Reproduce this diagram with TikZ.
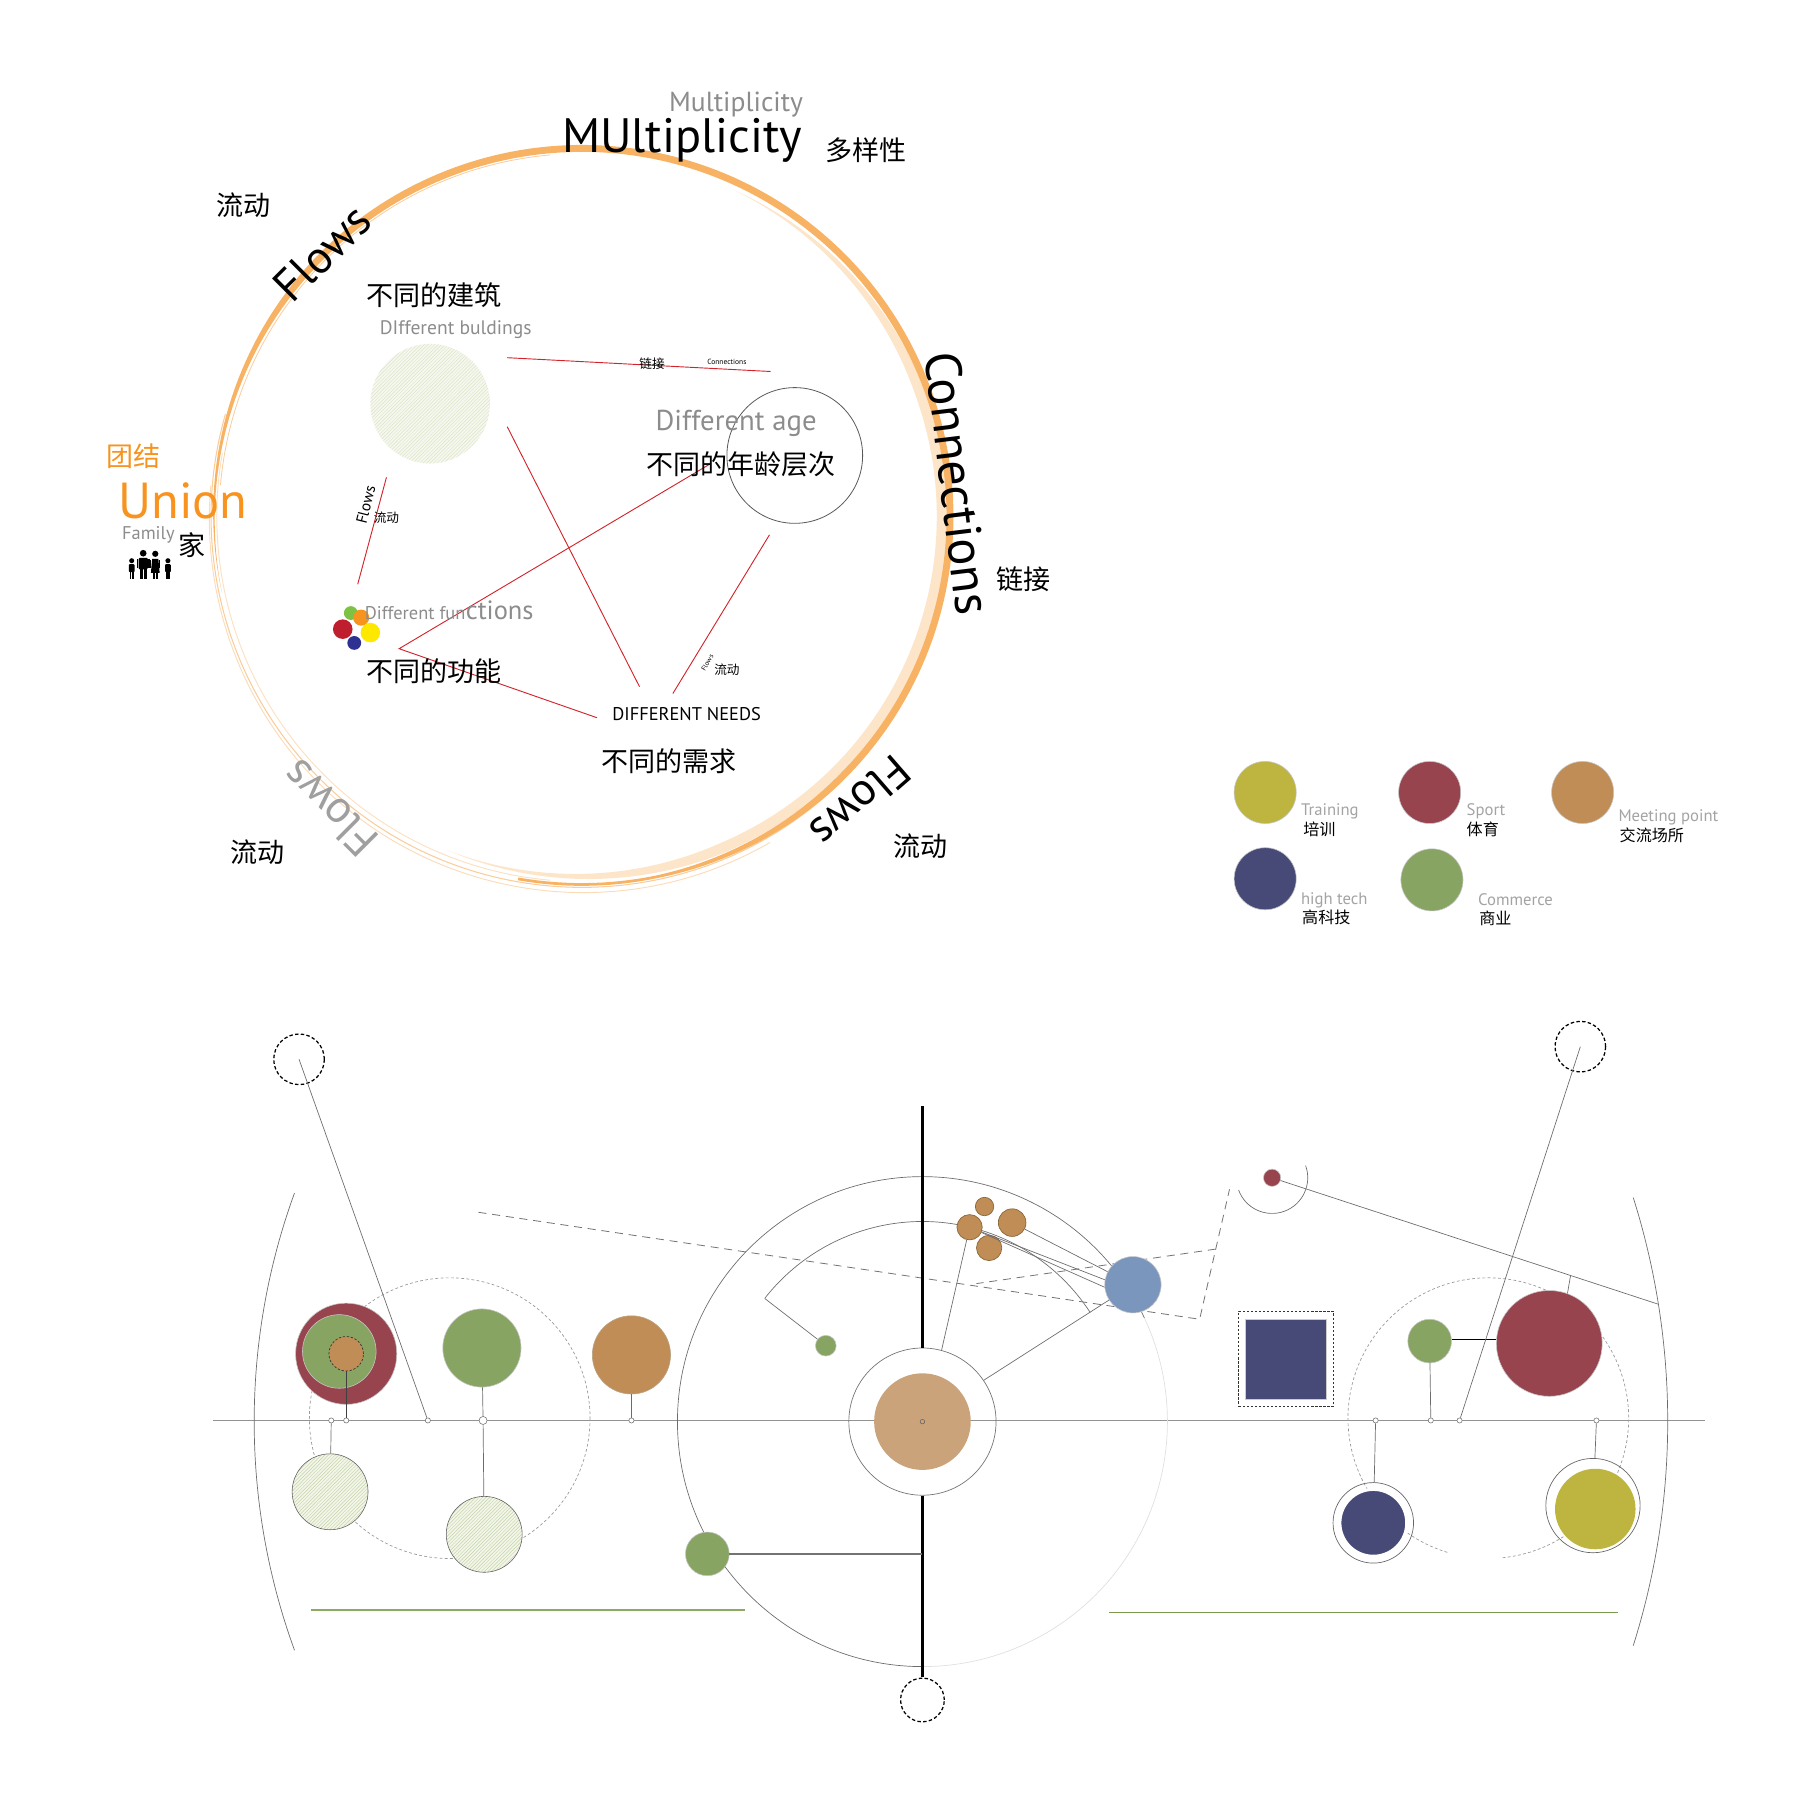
\documentclass[tikz,border=0pt]{standalone}
\usepackage{fontspec}
\setmainfont{PT Sans}
\newfontfamily\cjk{Noto Sans CJK SC}
\usetikzlibrary{patterns,calc}
\pgfdeclarelayer{bg}
\pgfsetlayers{bg,main}
\newcommand\setfs[1]{\fontsize{#1}{#1}\selectfont}
\definecolor{ringor}{HTML}{F8B263}
\definecolor{ringpale}{HTML}{FDE5CA}
\definecolor{ringpaleb}{HTML}{F9CC9A}
\definecolor{redl}{HTML}{D2232A}
\definecolor{uniono}{HTML}{F7931E}
\definecolor{gtext}{HTML}{8C8C8C}
\definecolor{ltext}{HTML}{A3A3A3}
\definecolor{colyel}{HTML}{BDB53F}
\definecolor{colmar}{HTML}{97444E}
\definecolor{coltan}{HTML}{C08D57}
\definecolor{clusd}{HTML}{8A6535}
\definecolor{colnavy}{HTML}{474A76}
\definecolor{colgrn}{HTML}{87A463}
\definecolor{colblue}{HTML}{7A96BC}
\definecolor{coltanb}{HTML}{CBA37A}
\definecolor{hatchbg}{HTML}{F3F6EA}
\definecolor{hatchln}{HTML}{C5D3A8}
\definecolor{hatchbgb}{HTML}{F6F8EF}
\definecolor{hatchlnb}{HTML}{DCE4C8}
\definecolor{glinea}{HTML}{8DAA63}
\definecolor{glineb}{HTML}{7A9A4E}
\definecolor{dgreen}{HTML}{7DC242}
\definecolor{dorange}{HTML}{F7941D}
\definecolor{dred}{HTML}{BE1E2D}
\definecolor{dyellow}{HTML}{FFE800}
\definecolor{dblue}{HTML}{2E3192}
\begin{document}
\begin{tikzpicture}[x=1pt,y=-1pt,
  declare function={wa(\t)=6*min(1,max(0,(\t+192)/55))*min(1,max(0.4,(100-\t)/55));
                    wb(\t)=9*min(1,max(0,(\t+65)/45))*min(1,max(0,(112-\t)/45));},
  cn/.style={font={\cjk\setfs{23.5}}, inner sep=0},
  cns/.style={font={\cjk\setfs{14}}, inner sep=0, anchor=west},
  cnt/.style={font={\cjk\setfs{11}}, inner sep=0},
  gtx/.style={text=gtext, inner sep=0},
  ltx/.style={text=ltext, font=\setfs{14.5}, inner sep=0, anchor=base west},
  redline/.style={draw=redl, line width=0.8},
  thinl/.style={draw=gray!85!black, line width=0.6},
  blob/.style={circle, inner sep=0, draw=gray!45, line width=0.5},
  axdot/.style={circle, inner sep=0, minimum size=4.5pt, draw=gray!90!black, fill=white, line width=0.5},
  dcirc/.style={circle, inner sep=0, draw=black, dash pattern=on 3pt off 2pt, line width=1.1},
  hatchc/.style={circle, inner sep=0, draw=gray!75!black, line width=0.5, preaction={fill=hatchbg}, pattern=north east lines, pattern color=hatchln},
  clus/.style={circle, inner sep=0, fill=coltan, draw=clusd, line width=0.6},
  dashl/.style={draw=gray!90!black, line width=0.7, dash pattern=on 7pt off 5pt},
  dashc/.style={draw=gray!80, line width=0.6, dash pattern=on 2.5pt off 2pt}]
\useasboundingbox (0,0) rectangle (1565,1562.6);
% ================= TOP RING =================
\coordinate (C) at (506,449);
\begin{pgfonlayer}{bg}
\fill[ringpale] plot[domain=-65:112, samples=120] ({506+(313+wb(\x)/2)*cos(\x)},{449+(313+wb(\x)/2)*sin(\x)})
  -- plot[domain=112:-65, samples=120] ({506+(313-wb(\x)/2)*cos(\x)},{449+(313-wb(\x)/2)*sin(\x)}) -- cycle;
\draw[ringpaleb, line width=0.9] (C) ++(45:322.5) arc[start angle=45,end angle=196,radius=322.5];
\draw[ringpaleb!70, line width=0.8] ($(C)+(1,2)$) ++(60:325) arc[start angle=60,end angle=185,radius=325];
\draw[ringpaleb!60, line width=0.8] (C) ++(95:317.5) arc[start angle=95,end angle=190,radius=317.5];
\fill[ringor] plot[domain=-192:100, samples=200] ({506+(320+wa(\x)/2)*cos(\x)},{449+(320+wa(\x)/2)*sin(\x)})
  -- plot[domain=100:-192, samples=200] ({506+(320-wa(\x)/2)*cos(\x)},{449+(320-wa(\x)/2)*sin(\x)}) -- cycle;
\draw[ringpaleb, line width=0.7] (C) ++(-175:315.5) arc[start angle=-175,end angle=-95,radius=315.5];
\end{pgfonlayer}
% ring texts
\node[gtx, anchor=base, font=\setfs{24}] (mult1) at (640,97) {Multiplicity};
\node[inner sep=0, anchor=base, font=\setfs{42}] (mult2) at (593,133) {MUltiplicity};
\node[cn] (dyx) at (753,131) {多样性};
\node[cn] (ld1) at (212,178) {流动};
\node[inner sep=0, rotate=45, font=\setfs{40}] (fl1) at (280,220) {Flows};
\node[inner sep=0, rotate=-83, font=\setfs{44}] (conn) at (833,420) {Connections};
\node[cn] (lj) at (890,504) {链接};
\node[inner sep=0, rotate=221, font=\setfs{40}] (fl2) at (748,697) {Flows};
\node[cn] (ld2) at (800,736) {流动};
\node[inner sep=0, rotate=135, font=\setfs{40}, text=gray!75] (fl3) at (287,703) {Flows};
\node[cn] (ld3) at (224,741) {流动};
\node[cn, text=uniono] (tj) at (116,397) {团结};
\node[inner sep=0, anchor=base, font=\setfs{44}, text=uniono] (un) at (159,451) {Union};
\node[gtx, anchor=base west, font=\setfs{16}] (fam) at (106,469) {Family};
\node[cn] (jia) at (167,474) {家};
% family icon
\fill (114.5,487.5) circle[radius=2.2];
\fill[rounded corners=0.8] (112,490.5) rectangle (117,497.5);
\fill (112.6,497) rectangle (114.2,503); \fill (114.8,497) rectangle (116.4,503);
\fill (124.5,481) circle[radius=2.9];
\fill[rounded corners=1] (120.5,485) rectangle (128.5,495);
\fill (118.8,486) rectangle (120.3,494); \fill (128.7,486) rectangle (130.2,494);
\fill (121.3,494) rectangle (124.2,503); \fill (124.8,494) rectangle (127.7,503);
\fill (135,481.5) circle[radius=2.7];
\fill (131.2,498) -- (132.3,486) -- (137.7,486) -- (138.8,498) -- cycle;
\fill (130.6,487) rectangle (131.6,494); \fill (138.4,487) rectangle (139.4,494);
\fill (132.6,497) rectangle (134.5,503); \fill (135.5,497) rectangle (137.4,503);
\fill (146,487.5) circle[radius=2.2];
\fill[rounded corners=0.8] (143.5,490.5) rectangle (148.5,497.5);
\fill (144.1,497) rectangle (145.7,503); \fill (146.3,497) rectangle (147.9,503);
% inner contents
\node[cn] (bjz) at (377,257) {不同的建筑};
\node[gtx, anchor=base west, font=\setfs{17}] (dbu) at (330,291) {DIfferent buldings};
\node[circle, inner sep=0, minimum size=104pt, preaction={fill=hatchbgb}, pattern=north east lines, pattern color=hatchlnb] (bld) at (374,351) {};
\node[circle, inner sep=0, draw=gray!70!black, line width=0.7, minimum size=118pt] (ageC) at (691,396) {};
\coordinate (r1a) at (441,311); \coordinate (r1b) at (670,323);
\coordinate (r2a) at (441,371); \coordinate (r2b) at (556,597);
\coordinate (r3a) at (618,403); \coordinate (r3v) at (347,564); \coordinate (r3b) at (519,624);
\coordinate (r4a) at (336,415); \coordinate (r4b) at (311,508);
\coordinate (r5a) at (669,465); \coordinate (r5b) at (585,603);
\draw[redline] (r1a) -- (r1b);
\draw[redline] (r2a) -- (r2b);
\draw[redline] (r3a) -- (r3v) -- (r3b);
\draw[redline] (r4a) -- (r4b);
\draw[redline] (r5a) -- (r5b);
\node[cnt] (ljs) at (567,316) {链接};
\node[inner sep=0, font=\setfs{6.5}] (cons) at (632,315) {Connections};
\node[gtx, anchor=base, font=\setfs{25}] (dage) at (640,374) {Different age};
\node[cn] (nl) at (644,404) {不同的年龄层次};
\node[inner sep=0, rotate=76, font=\setfs{13.5}] (fls1) at (318,439) {Flows};
\node[cnt] (lds1) at (336,450) {流动};
\node[inner sep=0, rotate=60, font=\setfs{6}] (fls2) at (615,576) {Flows};
\node[cnt] (lds2) at (632,582) {流动};
\node[circle, inner sep=0, minimum size=12pt, fill=dgreen] (dG) at (305,533) {};
\node[circle, inner sep=0, minimum size=14pt, fill=dorange] (dO) at (314,537) {};
\node[circle, inner sep=0, minimum size=17pt, fill=dyellow] (dY) at (322,550) {};
\node[circle, inner sep=0, minimum size=17pt, fill=dred] (dR) at (298,547) {};
\node[circle, inner sep=0, minimum size=12pt, fill=dblue] (dB) at (308,559) {};
\node[gtx, anchor=base west, font=\setfs{16}] (dfa) at (317,539) {Different fun};
\node[gtx, anchor=base west, font=\setfs{23}] (dfb) at (dfa.base east) {ctions};
\node[cn] (gn) at (377,584) {不同的功能};
\node[inner sep=0, anchor=base, font=\setfs{16}] (dn) at (597,626) {DIFFERENT NEEDS};
\node[cn] (xq) at (582,662) {不同的需求};
% ================= LEGEND =================
\node[blob, fill=colyel, minimum size=54pt] (lg1) at (1100,689) {};
\node[blob, fill=colmar, minimum size=54pt] (lg2) at (1243,689) {};
\node[blob, fill=coltan, minimum size=54pt] (lg3) at (1376,689) {};
\node[blob, fill=colnavy, minimum size=54pt] (lg4) at (1100,764) {};
\node[blob, fill=colgrn, minimum size=54pt] (lg5) at (1245,765) {};
\node[ltx] (lt1) at (1131,709) {Training};
\node[cns] (lc1) at (1133,721) {培训};
\node[ltx] (lt2) at (1275,709) {Sport};
\node[cns] (lc2) at (1275,721) {体育};
\node[ltx] (lt3) at (1407,714) {Meeting point};
\node[cns] (lc3) at (1408,726) {交流场所};
\node[ltx] (lt4) at (1131,786) {high tech};
\node[cns] (lc4) at (1132,798) {高科技};
\node[ltx] (lt5) at (1285,787) {Commerce};
\node[cns] (lc5) at (1286,798) {商业};
% ================= BOTTOM =================
\coordinate (O) at (802,1236);
\coordinate (axL) at (185,1235); \coordinate (axR) at (1482,1235);
\coordinate (LC) at (391,1233); \coordinate (RC) at (1294,1233);
\coordinate (dA) at (416,1054); \coordinate (dB) at (1043,1147);
\coordinate (dC) at (1057,1086); \coordinate (dD) at (1069,1034);
\coordinate (dE) at (849,1116);
\begin{pgfonlayer}{bg}
\draw[draw=gray!85, line width=0.8] (axL) -- (axR);
\draw[thinl] (O) ++(90:213) arc[start angle=90,end angle=335,radius=213];
\draw[draw=gray!25, line width=0.6] (O) ++(-25:213) arc[start angle=-25,end angle=90,radius=213];
\draw[thinl] (O) ++(-142:174) arc[start angle=-142,end angle=-33,radius=174];
\draw[thinl] (O) ++(160:581) arc[start angle=160,end angle=200,radius=581];
\draw[thinl] (O) ++(-17.5:648) arc[start angle=-17.5,end angle=17.5,radius=648];
\draw[dashc] (LC) circle[radius=122];
\draw[dashc] (RC) ++(107:122) arc[start angle=107,end angle=445,radius=122];
\draw[dashl] (dA) -- (dB) -- (dC) -- (dD);
\draw[dashl] (dC) -- (dE);
\end{pgfonlayer}
% centre
\node[circle, inner sep=0, draw=gray!90!black, line width=0.6, minimum size=128pt] (inC) at (O) {};
\node[circle, inner sep=0, fill=coltanb, minimum size=84pt] (tanC) at (O) {};
\node[circle, inner sep=0, draw=gray!70!black, line width=0.4, minimum size=4pt] (cdot) at (O) {};
\coordinate (vTop) at (802,962);
\node[dcirc, minimum size=38pt] (botD) at (802,1478) {};
\draw[line width=2.6] (vTop) -- (inC.north);
\draw[line width=2.6] (inC.south) -- (botD.north);
\node[blob, fill=colgrn, minimum size=38pt] (gLow) at (615,1351) {};
\coordinate (vJ) at (802,1351);
\draw[draw=gray!90!black, line width=1.1] (gLow) -- (vJ);
\coordinate (arcL) at (665,1129);
\node[blob, fill=colgrn, minimum size=18pt] (gSm) at (718,1170) {};
\draw[thinl] (arcL) -- (gSm);
\node[clus, minimum size=16pt] (oT) at (856,1049) {};
\node[clus, minimum size=22pt] (oL) at (843,1067) {};
\node[clus, minimum size=24pt] (oR) at (880,1063) {};
\node[clus, minimum size=22pt] (oB) at (860,1085) {};
\node[blob, fill=colblue, minimum size=49pt] (bl) at (985,1117) {};
\draw[thinl] (inC.75) -- (oL);
\draw[thinl] (inC.34) -- (bl);
\draw[thinl] (oR) -- (bl);
\draw[thinl] (oL) -- (bl.170);
\draw[thinl] (oL) -- (bl.185);
% right group
\node[blob, fill=colmar, minimum size=15pt] (mDot) at (1106,1024) {};
\draw[thinl] (mDot.center) ++(-20:31) arc[start angle=-20,end angle=160,radius=31];
\coordinate (rEnd) at (1442,1134);
\draw[thinl] (mDot) -- (rEnd);
\node[draw=gray!40, line width=1, fill=colnavy, minimum width=70pt, minimum height=70pt, inner sep=0] (sq) at (1118,1182) {};
\node[draw=black!80, line width=0.6, dash pattern=on 2pt off 1.5pt, minimum width=82pt, minimum height=83pt, inner sep=0] (sqD) at (1118,1181.5) {};
\node[blob, fill=colmar, minimum size=92pt] (mBig) at (1347,1168) {};
\coordinate (mJ) at (1365.5,1109);
\draw[thinl] (mBig.70) -- (mJ);
\node[blob, fill=colgrn, minimum size=38pt] (gR) at (1243,1166) {};
\draw[double, double distance=2.5pt, line width=0.7] (gR.east) -- (gR.east -| mBig.west);
\node[axdot] (ax5) at (1196,1235) {};
\node[axdot] (ax6) at (1244,1235) {};
\node[axdot] (ax7) at (1269,1235) {};
\node[axdot] (ax8) at (1388,1235) {};
\node[dcirc, minimum size=44pt] (dTR) at (1374,910) {};
\draw[thinl] (dTR.center) -- (ax7);
\draw[thinl] (gR) -- (ax6);
\node[circle, inner sep=0, fill=colnavy, draw=white, line width=2.5, minimum size=58pt] (nav) at (1194,1324) {};
\node[circle, inner sep=0, draw=gray!80!black, line width=0.6, minimum size=70pt] (navR) at (1194,1324) {};
\draw[thinl] (ax5) -- (navR);
\node[circle, inner sep=0, fill=colyel, minimum size=70pt] (yel) at (1387,1312) {};
\node[circle, inner sep=0, draw=gray!80!black, line width=0.6, minimum size=82pt] (yelR) at (1385,1309) {};
\draw[thinl] (ax8) -- (yelR);
% left group
\node[axdot] (ax1) at (288,1235) {};
\node[axdot] (ax2) at (301,1235) {};
\node[axdot] (ax3) at (372,1235) {};
\node[axdot, minimum size=7pt] (ax4) at (420,1235) {};
\node[axdot] (axb) at (549,1235) {};
\node[dcirc, minimum size=44pt] (dTL) at (260,921) {};
\draw[thinl] (dTL.center) -- (ax3);
\node[blob, fill=colmar, minimum size=88pt] (mL) at (301,1177) {};
\node[blob, fill=colgrn, minimum size=64pt] (gL) at (295,1175) {};
\node[circle, inner sep=0, fill=coltan, draw=black!80, dash pattern=on 2pt off 1.5pt, line width=0.6, minimum size=30pt] (tL) at (301,1177) {};
\draw[draw=black!75, line width=0.7] (tL) -- (ax2);
\node[hatchc, minimum size=66pt] (hL1) at (287,1297) {};
\draw[thinl] (ax1) -- (hL1);
\node[blob, fill=colgrn, minimum size=68pt] (gL2) at (419,1172) {};
\node[hatchc, minimum size=66pt] (hL2) at (421,1334) {};
\draw[thinl] (gL2) -- (ax4) -- (hL2);
\node[blob, fill=coltan, draw=clusd!60, minimum size=68pt] (tL2) at (549,1178) {};
\draw[thinl] (tL2) -- (axb);
\coordinate (gA1) at (270,1400); \coordinate (gA2) at (648,1400);
\draw[glinea, line width=1.8] (gA1) -- (gA2);
\coordinate (gB1) at (964,1402); \coordinate (gB2) at (1407,1402);
\draw[glineb, line width=1] (gB1) -- (gB2);
\end{tikzpicture}
\end{document}
